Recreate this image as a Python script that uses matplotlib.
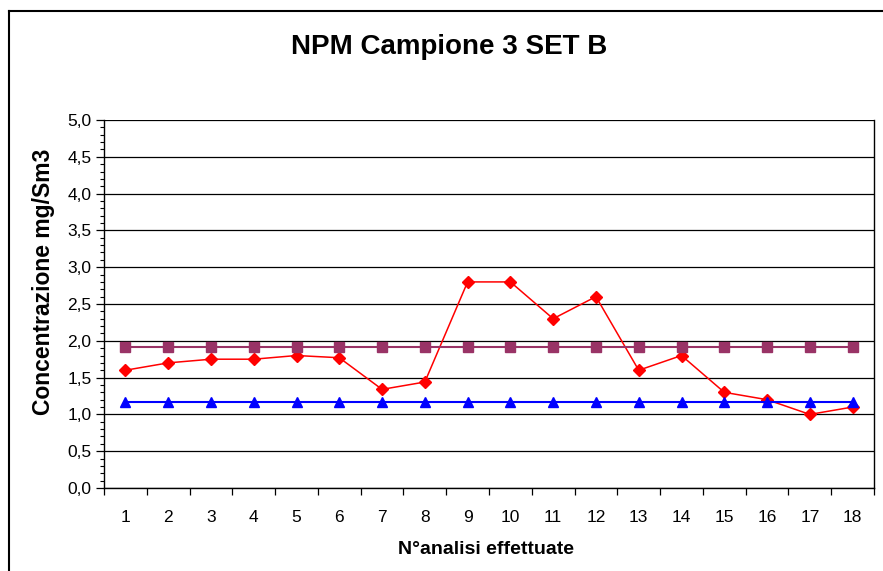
import matplotlib
matplotlib.use("Agg")
import matplotlib.pyplot as plt
from matplotlib.ticker import MultipleLocator, FuncFormatter
from matplotlib.lines import Line2D

plt.rcParams['font.family'] = ['Liberation Sans', 'DejaVu Sans']

analisi = list(range(1, 19))
campione = [1.60, 1.70, 1.75, 1.75, 1.80, 1.77, 1.34, 1.44, 2.80, 2.80,
            2.30, 2.60, 1.60, 1.80, 1.30, 1.20, 1.00, 1.10]
limite_sup = [1.91] * 18
limite_inf = [1.17] * 18

W, H = 883, 571
fig = plt.figure(figsize=(W / 100, H / 100), dpi=100)
ax = fig.add_axes([104 / W, 1 - 488 / H, 770 / W, 368 / H])

ax.plot(analisi, campione, color='#FF0000', lw=1.1, marker='D', ms=6,
        markerfacecolor='#FF0000', markeredgecolor='#FF0000', zorder=3)
ax.plot(analisi, limite_sup, color='#993366', lw=1.5, marker='s', ms=6.5,
        markerfacecolor='#993366', markeredgecolor='#993366', zorder=4)
ax.plot(analisi, limite_inf, color='#0000FF', lw=1.5, marker='^', ms=7.5,
        markerfacecolor='#0000FF', markeredgecolor='#0000FF', zorder=5)

ax.set_xlim(0.5, 18.5)
ax.set_ylim(0, 5)
ax.yaxis.set_major_locator(MultipleLocator(0.5))
ax.yaxis.set_minor_locator(MultipleLocator(0.1))
ax.yaxis.set_major_formatter(FuncFormatter(lambda v, p: f"{v:.1f}".replace('.', ',')))
ax.grid(axis='y', which='major', color='black', lw=0.9)
ax.set_axisbelow(True)

# category boundaries carry the tick marks, category centres carry the labels
ax.set_xticks([i + 0.5 for i in range(0, 19)])
ax.set_xticklabels([])
ax.set_xticks(analisi, minor=True)
ax.set_xticklabels([str(i) for i in analisi], minor=True)
ax.tick_params(axis='x', which='major', direction='out', length=5, width=0.9, color='black')
ax.tick_params(axis='x', which='minor', length=0, pad=15.5, labelsize=12.5)
ax.tick_params(axis='y', which='major', direction='out', length=6, width=0.9, labelsize=12.5, pad=3)
ax.tick_params(axis='y', which='minor', direction='out', length=3, width=0.8)

for side in ['left', 'bottom', 'right']:
    ax.spines[side].set_color('black')
    ax.spines[side].set_linewidth(1.0)
ax.spines['top'].set_visible(False)

fig.text(43.5 / W, 1 - 282 / H, 'Concentrazione mg/Sm3', rotation=90, ha='center', va='center',
         fontsize=16.5, fontweight='bold')
fig.text(486 / W, 1 - 549 / H, 'N°analisi effettuate', ha='center', va='center',
         fontsize=14, fontweight='bold')
fig.text(449 / W, 1 - 47 / H, 'NPM Campione 3 SET B', ha='center', va='center',
         fontsize=20, fontweight='bold')

# outer chart frame (left and top edges)
fig.add_artist(Line2D([9 / W, 9 / W], [0, 1 - 11 / H], transform=fig.transFigure,
                      color='black', lw=1.5))
fig.add_artist(Line2D([9 / W, 1], [1 - 11 / H, 1 - 11 / H], transform=fig.transFigure,
                      color='black', lw=1.5))

fig.savefig('out.png', dpi=100)
